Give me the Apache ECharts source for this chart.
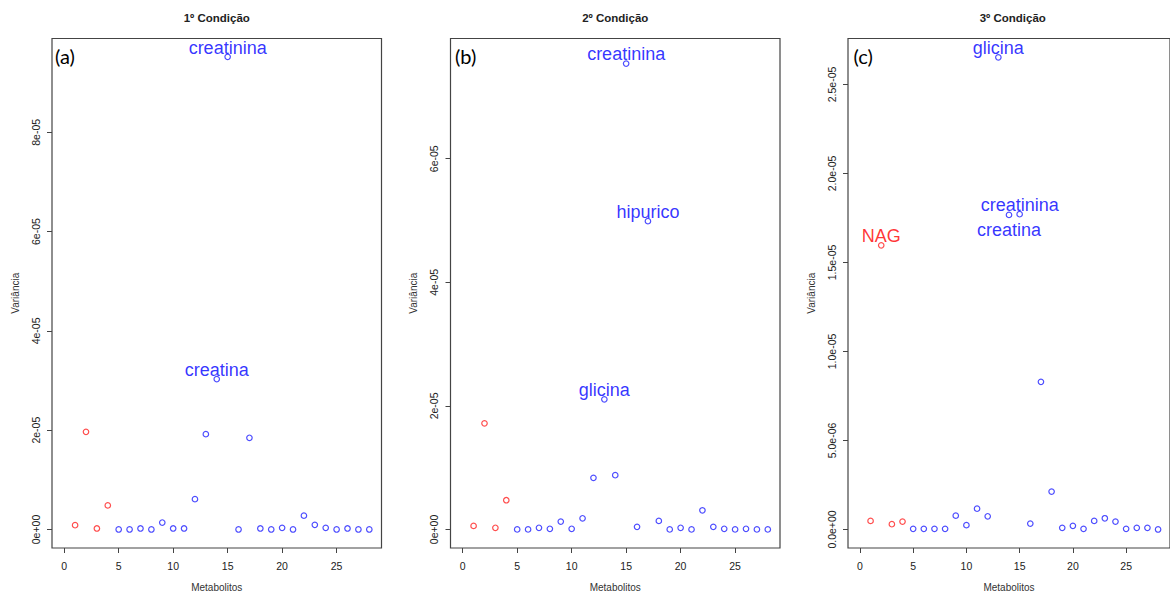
<!DOCTYPE html>
<html>
<head>
<meta charset="utf-8">
<script src="https://cdn.jsdelivr.net/npm/echarts@6/dist/echarts.min.js"></script>
<style>
html,body{margin:0;padding:0;background:#ffffff;}
#chart{width:1170px;height:597px;}
</style>
</head>
<body>
<div id="chart"></div>
<script>
// ---------------- data ----------------
const metaboliteIndex = [1,2,3,4,5,6,7,8,9,10,11,12,13,14,15,16,17,18,19,20,21,22,23,24,25,26,27,28];
const panelTitles = ['1º Condição', '2º Condição', '3º Condição'];
const panelTags = ['(a)', '(b)', '(c)'];
const xAxisTitle = 'Metabolitos';
const yAxisTitle = 'Variância';

const variance1 = [0.086e-5, 1.967e-5, 0.02e-5, 0.485e-5, 0, 0, 0.02e-5, 0, 0.14e-5, 0.02e-5,
                   0.02e-5, 0.611e-5, 1.92e-5, 3.03e-5, 9.52e-5, 0, 1.847e-5, 0.02e-5, 0, 0.033e-5,
                   0, 0.279e-5, 0.093e-5, 0.033e-5, 0, 0.02e-5, 0, 0];
const variance2 = [0.058e-5, 1.718e-5, 0.027e-5, 0.473e-5, 0, 0, 0.027e-5, 0.011e-5, 0.128e-5, 0.011e-5,
                   0.181e-5, 0.835e-5, 2.106e-5, 0.878e-5, 7.54e-5, 0.043e-5, 4.99e-5, 0.138e-5, 0, 0.027e-5,
                   0, 0.309e-5, 0.043e-5, 0.011e-5, 0, 0.011e-5, 0, 0];
const variance3 = [0.481e-6, 15.96e-6, 0.296e-6, 0.444e-6, 0.037e-6, 0.037e-6, 0.037e-6, 0.037e-6, 0.778e-6, 0.241e-6,
                   1.167e-6, 0.741e-6, 26.52e-6, 17.67e-6, 17.71e-6, 0.333e-6, 8.296e-6, 2.13e-6, 0.093e-6, 0.204e-6,
                   0.037e-6, 0.481e-6, 0.63e-6, 0.444e-6, 0.037e-6, 0.093e-6, 0.093e-6, 0];

// number of leading metabolites drawn in red (the rest in blue)
const redGroupCount = 4;

const xTicks = [0, 5, 10, 15, 20, 25];
const yTicks1 = [0, 2e-5, 4e-5, 6e-5, 8e-5];
const yTickLabels1 = ['0e+00', '2e-05', '4e-05', '6e-05', '8e-05'];
const yTicks2 = [0, 2e-5, 4e-5, 6e-5];
const yTickLabels2 = ['0e+00', '2e-05', '4e-05', '6e-05'];
const yTicks3 = [0, 5e-6, 1e-5, 1.5e-5, 2e-5, 2.5e-5];
const yTickLabels3 = ['0.0e+00', '5.0e-06', '1.0e-05', '1.5e-05', '2.0e-05', '2.5e-05'];

// labelled metabolites: index (1-based) , name, side
const highlights1 = [[15, 'creatinina', 'top'], [14, 'creatina', 'top']];
const highlights2 = [[15, 'creatinina', 'top'], [17, 'hipurico', 'top'], [13, 'glicina', 'top']];
const highlights3 = [[13, 'glicina', 'top'], [15, 'creatinina', 'top'], [14, 'creatina', 'bottom'], [2, 'NAG', 'top']];

// ---------------- layout / style ----------------
const RED = '#ff0000', BLUE = '#0000ff';
const PT_RED = '#ff2020', PT_BLUE = '#2020ff';
const FONT = '"Liberation Sans", Arial, sans-serif';
const gridLefts = [52, 450.5, 848];
const gridTop = 38.5, gridW = 329.5, gridH = 514;
const xRange = [-1.12, 29.12];
const yRanges = [[-0.373e-5, 9.89e-5], [-0.30e-5, 7.946e-5], [-0.104e-5, 2.758e-5]];

const panels = [
  {values: variance1, ticks: yTicks1, labels: yTickLabels1, hl: highlights1},
  {values: variance2, ticks: yTicks2, labels: yTickLabels2, hl: highlights2},
  {values: variance3, ticks: yTicks3, labels: yTickLabels3, hl: highlights3}
];

const grid = [], xAxis = [], yAxis = [], series = [], graphic = [];

panels.forEach((p, k) => {
  grid.push({
    left: gridLefts[k], top: gridTop, width: gridW, height: gridH,
    show: true, borderColor: '#444', borderWidth: 1.2, backgroundColor: 'transparent',
    containLabel: false
  });
  xAxis.push({
    type: 'value', gridIndex: k, min: xRange[0], max: xRange[1],
    name: xAxisTitle, nameLocation: 'middle', nameGap: 34,
    nameTextStyle: {fontFamily: FONT, fontSize: 10, color: '#333'},
    axisLine: {show: false, onZero: false},
    splitLine: {show: false},
    axisTick: {show: true, inside: false, length: 5, customValues: xTicks, lineStyle: {color: '#444', width: 1}},
    axisLabel: {show: true, customValues: xTicks, margin: 12, fontFamily: FONT, fontSize: 10.5, color: '#222'}
  });
  const ticks = p.ticks, labs = p.labels;
  yAxis.push({
    type: 'value', gridIndex: k, min: yRanges[k][0], max: yRanges[k][1],
    name: yAxisTitle, nameLocation: 'middle', nameGap: 32, nameRotate: 90,
    nameTextStyle: {fontFamily: FONT, fontSize: 10, color: '#333'},
    axisLine: {show: false, onZero: false},
    splitLine: {show: false},
    axisTick: {show: true, inside: false, length: 5, customValues: ticks, lineStyle: {color: '#444', width: 1}},
    axisLabel: {
      show: true, customValues: ticks, rotate: 90, margin: 11,
      fontFamily: FONT, fontSize: 10.5, color: '#222',
      formatter: function (v) {
        let best = 0, bd = Infinity;
        ticks.forEach((t, i) => { const d = Math.abs(t - v); if (d < bd) { bd = d; best = i; } });
        return labs[best];
      }
    }
  });

  const hlMap = {};
  p.hl.forEach(h => { hlMap[h[0]] = h; });
  const data = metaboliteIndex.map((m, i) => {
    const isRed = i < redGroupCount;
    const item = {
      value: [m, p.values[i]],
      itemStyle: {color: 'rgba(0,0,0,0)', borderColor: isRed ? PT_RED : PT_BLUE, borderWidth: 1.2}
    };
    const h = hlMap[m];
    if (h) {
      item.label = {
        show: true, formatter: h[1], position: h[2],
        distance: h[2] === 'top' ? -3 : 2.5,
        color: isRed ? RED : BLUE, fontFamily: FONT, fontSize: 18
      };
    }
    return item;
  });
  series.push({
    type: 'scatter', xAxisIndex: k, yAxisIndex: k,
    symbol: 'circle', symbolSize: 5.5,
    data: data,
    label: {show: false},
    emphasis: {disabled: true},
    z: 3
  });

  const cx = gridLefts[k] + gridW / 2;
  graphic.push({
    type: 'text', x: cx, y: 18,
    style: {text: panelTitles[k], x: 0, y: 0, align: 'center', verticalAlign: 'middle',
            font: 'bold 11.5px ' + FONT, fill: '#222'}
  });
  graphic.push({
    type: 'text', x: gridLefts[k] + [3, 4.5, 5.5][k], y: 56,
    style: {text: panelTags[k], x: 0, y: 0, align: 'left', verticalAlign: 'middle',
            font: '20px Lato, "Open Sans", sans-serif', fill: '#000'}
  });
});

const chart = echarts.init(document.getElementById('chart'), null, {renderer: 'svg', width: 1170, height: 597});
chart.setOption({
  animation: false,
  backgroundColor: '#ffffff',
  grid: grid, xAxis: xAxis, yAxis: yAxis, series: series, graphic: graphic
});
</script>
</body>
</html>
